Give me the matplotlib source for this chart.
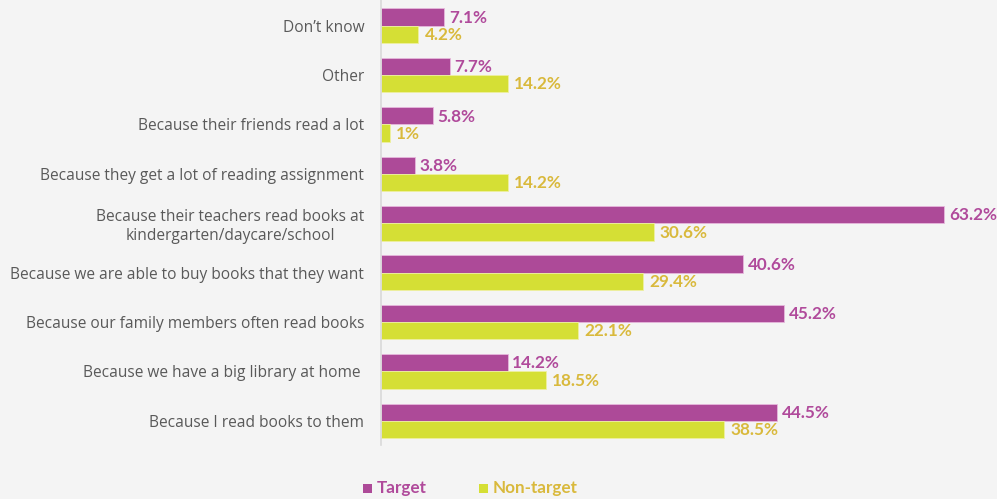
import matplotlib.pyplot as plt
from matplotlib.patches import Rectangle
import numpy as np

# Reasons, listed bottom to top as drawn on the y axis
reasons = [
    "Because I read books to them",
    "Because we have a big library at home ",
    "Because our family members often read books",
    "Because we are able to buy books that they want",
    "Because their teachers read books at\nkindergarten/daycare/school",
    "Because they get a lot of reading assignment",
    "Because their friends read a lot",
    "Other",
    "Don\u2019t know",
]
target = [44.5, 14.2, 45.2, 40.6, 63.2, 3.8, 5.8, 7.7, 7.1]
non_target = [38.5, 18.5, 22.1, 29.4, 30.6, 14.2, 1.0, 14.2, 4.2]

BG = '#f4f4f4'
PURPLE = '#ad4a98'
GREEN = '#d5df35'
PURPLE_TXT = '#b04a9b'
GREEN_TXT = '#d9b93c'
W, H = 997, 499
BOLD_FONT = ['Lato', 'DejaVu Sans']

plt.rcParams['font.family'] = ['Open Sans', 'DejaVu Sans']

fig = plt.figure(figsize=(9.97, 4.99), dpi=100, facecolor=BG)
ax = fig.add_axes([381 / W, 1 - 445 / H, 1 - 381 / W, 445 / H])
ax.set_facecolor(BG)

y = np.arange(len(reasons))
h = 0.35
ax.barh(y + h / 2, target, height=h, color=PURPLE, edgecolor='#e6b8dc', linewidth=0.6)
ax.barh(y - h / 2, non_target, height=h, color=GREEN, edgecolor='#eef0a0', linewidth=0.6)

fmt = lambda v: f"{v:g}%"
for yi, v in zip(y, target):
    ax.annotate(fmt(v), (v, yi + h / 2), xytext=(3.5, -0.5), textcoords='offset points',
                ha='left', va='center', fontsize=12.3, fontweight='bold',
                family=BOLD_FONT, color=PURPLE_TXT)
for yi, v in zip(y, non_target):
    ax.annotate(fmt(v), (v, yi - h / 2), xytext=(4.5, -0.5), textcoords='offset points',
                ha='left', va='center', fontsize=12.3, fontweight='bold',
                family=BOLD_FONT, color=GREEN_TXT)

ax.set_xlim(0, 616 / 8.91)
ax.set_ylim(-0.49, 8.52)
ax.set_yticks(y)
ax.set_yticklabels(reasons, fontsize=11.2, color='#595959', ha='right', multialignment='center')
ax.tick_params(axis='y', length=0, pad=12)
ax.set_xticks([])
for s in ['top', 'right', 'bottom']:
    ax.spines[s].set_visible(False)
ax.spines['left'].set_color('#d9d9d9')
ax.spines['left'].set_linewidth(1.2)

# Legend: small squares plus coloured labels at the bottom
for x0, col, tcol, label in [(363, PURPLE, PURPLE_TXT, 'Target'),
                             (479, GREEN, GREEN_TXT, 'Non-target')]:
    fig.add_artist(Rectangle((x0 / W, 1 - 493 / H), 9 / W, 9 / H,
                             transform=fig.transFigure, color=col, lw=0))
    fig.text((x0 + 14) / W, 1 - 488 / H, label, color=tcol, fontsize=12.3,
             fontweight='bold', family=BOLD_FONT, va='center', ha='left')

fig.savefig('out.png', dpi=100, facecolor=BG)
